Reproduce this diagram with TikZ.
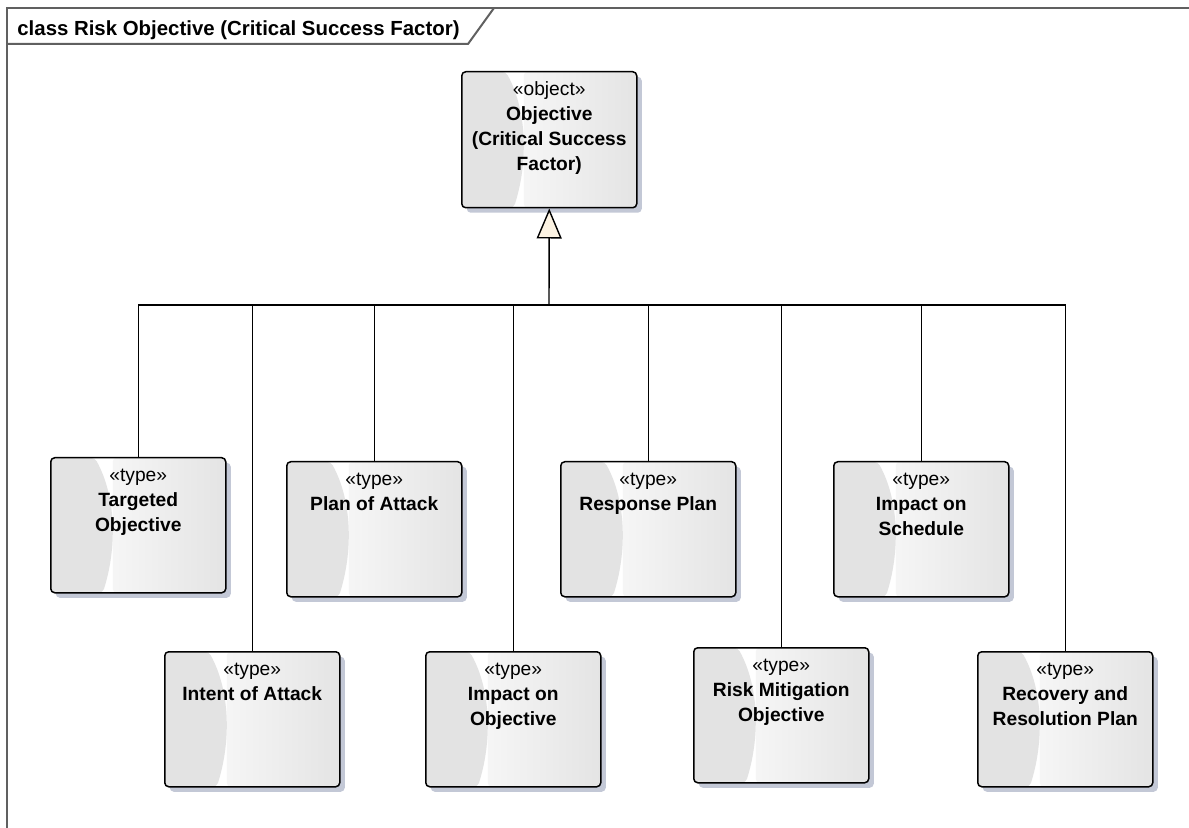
\documentclass[tikz,border=0pt]{standalone}
\usepackage{fontspec}
\setmainfont{Liberation Sans}
\usetikzlibrary{arrows.meta, shadows, calc}
\definecolor{boxGray}{HTML}{E3E3E3}
\definecolor{boxEdge}{HTML}{E4E4E4}
\definecolor{shadowBlue}{HTML}{C3C8D6}
\definecolor{frameGray}{HTML}{606060}
\definecolor{triFill}{HTML}{FCF3E3}

% stereotype on first line, bold name below, text hung from the top
\newcommand{\boxtext}[3][67.5pt]{\parbox[c][#1][t]{87.5pt}{\centering\fontsize{9.6}{12.5}\selectfont\rule{0pt}{12pt}«#2»\\\textbf{#3}}}

\tikzset{
	cls/.style = {rectangle, rounded corners = 2pt, anchor = north west, inner sep = 0pt, draw = black, line width = 0.75pt, fill = white,
		drop shadow = {shadow xshift = 2.5pt, shadow yshift = -2.5pt, fill = shadowBlue, opacity = 1},
		path picture = {
			\shade[left color = white, right color = boxEdge] ($(path picture bounding box.north west)+(31pt,0pt)$) rectangle (path picture bounding box.south east);
			\fill[boxGray] (path picture bounding box.north west) -- ++(22pt,0pt)
				.. controls +(11pt,-20pt) and +(7pt,22pt) .. ($(path picture bounding box.south west)+(26pt,0pt)$)
				-- (path picture bounding box.south west) -- cycle;
		}},
	link/.style = {draw = black, line width = 0.7pt},
	gen/.style = {link, -{Triangle[length = 15pt, width = 12.5pt, fill = triFill]}},
	frame/.style = {draw = frameGray, line width = 1pt},
	title/.style = {anchor = base west, inner sep = 0pt, font = \bfseries\fontsize{10.2}{12}\selectfont}
}

\begin{document}
\begin{tikzpicture}[x = 0.5pt, y = -0.5pt]
	\useasboundingbox (0,0) rectangle (1189,828);
	
	%% frame
	\draw [frame] (7,828) -- (7,8) -- (1189,8);
	\draw [frame] (7,44) -- (468,44) -- (494,8);
	\node (title) [title] at (17,36) {class Risk Objective (Critical Success Factor)};
	
	%% nodes
	\node (obj) [cls] at (461,71) {\boxtext[68pt]{object}{Objective\\(Critical Success\\Factor)}};
	
	\node (target) [cls] at (50,457) {\boxtext{type}{Targeted\\Objective}};
	\node (plan) [cls] at (286,461) {\boxtext{type}{Plan of Attack}};
	\node (resp) [cls] at (560,461) {\boxtext{type}{Response Plan}};
	\node (sched) [cls] at (833,461) {\boxtext{type}{Impact on\\Schedule}};
	
	\node (intent) [cls] at (164,651) {\boxtext{type}{Intent of Attack}};
	\node (impobj) [cls] at (425,651) {\boxtext{type}{Impact on\\Objective}};
	\node (riskmit) [cls] at (693,647) {\boxtext{type}{Risk Mitigation\\Objective}};
	\node (recov) [cls] at (977,651) {\boxtext{type}{Recovery and\\Resolution Plan}};
	
	%% arrows
	\coordinate (bar) at (549,305);
	\draw [gen] (bar) -- (obj.south);
	\draw [link] (target.north) |- (bar);
	\draw [link] (intent.north) |- (bar);
	\draw [link] (plan.north) |- (bar);
	\draw [link] (impobj.north) |- (bar);
	\draw [link] (resp.north) |- (bar);
	\draw [link] (riskmit.north) |- (bar);
	\draw [link] (sched.north) |- (bar);
	\draw [link] (recov.north) |- (bar);
\end{tikzpicture}
\end{document}
